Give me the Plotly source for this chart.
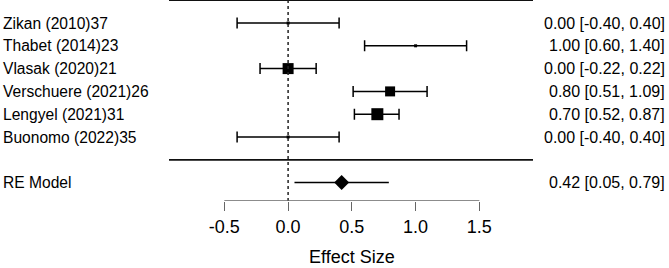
import plotly.graph_objects as go

# ---- data ----
studies = ["Zikan (2010)37", "Thabet (2014)23", "Vlasak (2020)21",
           "Verschuere (2021)26", "Lengyel (2021)31", "Buonomo (2022)35"]
estimates = [0.00, 1.00, 0.00, 0.80, 0.70, 0.00]
ci_lower = [-0.40, 0.60, -0.22, 0.51, 0.52, -0.40]
ci_upper = [0.40, 1.40, 0.22, 1.09, 0.87, 0.40]
model_label = "RE Model"
model_est = 0.42
model_lower = 0.05
model_upper = 0.79
tick_values = [-0.5, 0.0, 0.5, 1.0, 1.5]
tick_labels = ["-0.5", "0.0", "0.5", "1.0", "1.5"]
x_title = "Effect Size"

# ---- style ----
FONT = "Liberation Sans, Arial, Helvetica, sans-serif"
marker_px = [3, 3, 11, 10, 12, 3]  # study weights shown as square size
k = len(studies)
rows = list(range(k, 0, -1))
model_row = -1
W, H = 669, 268
plot_bottom = 201

fig = go.Figure()

fig.add_trace(go.Scatter(
    x=estimates, y=rows, mode="markers",
    marker=dict(symbol="square", size=marker_px, color="black", opacity=1,
                line=dict(width=0)),
    error_x=dict(type="data", symmetric=False,
                 array=[u - e for u, e in zip(ci_upper, estimates)],
                 arrayminus=[e - l for e, l in zip(estimates, ci_lower)],
                 color="black", thickness=1.5, width=5.5),
    showlegend=False, hoverinfo="skip"))

fig.add_trace(go.Scatter(
    x=[model_est], y=[model_row], mode="markers",
    marker=dict(symbol="diamond", size=11.5, color="black", opacity=1,
                line=dict(width=0)),
    error_x=dict(type="data", symmetric=False,
                 array=[model_upper - model_est],
                 arrayminus=[model_est - model_lower],
                 color="black", thickness=1.5, width=0),
    showlegend=False, hoverinfo="skip"))

# pixel mapping helpers
px_per_x = 127.5
x0_px = 288.1
x_range = [-x0_px / px_per_x, (W - x0_px) / px_per_x]
y_a, y_b = 159.8, 22.8
y_range = [(y_a - plot_bottom) / y_b, y_a / y_b]

def xpx(p):
    return (p - x0_px) / px_per_x

line_left = xpx(169)
line_right = xpx(533)

shapes = [
    dict(type="line", xref="x", yref="y", x0=line_left, x1=line_right,
         y0=k + 1, y1=k + 1, line=dict(color="#111", width=1.8)),
    dict(type="line", xref="x", yref="y", x0=line_left, x1=line_right,
         y0=0, y1=0, line=dict(color="#111", width=1.8)),
    dict(type="line", xref="x", yref="y", x0=0, x1=0,
         y0=y_range[0], y1=k + 1, line=dict(color="#222", width=1.5, dash="dot")),
    dict(type="line", xref="x", yref="y", x0=tick_values[0], x1=tick_values[-1],
         y0=y_range[0], y1=y_range[0], line=dict(color="#666", width=1.3)),
]

LBL = 15.6
annotations = []
for s, r in zip(studies, rows):
    annotations.append(dict(text=s, x=1 / W, y=r, xref="paper", yref="y",
                            xanchor="left", yanchor="middle", showarrow=False,
                            font=dict(size=LBL, color="black", family=FONT)))
annotations.append(dict(text=model_label, x=1 / W, y=model_row, xref="paper", yref="y",
                        xanchor="left", yanchor="middle", showarrow=False,
                        font=dict(size=LBL, color="black", family=FONT)))
for e, l, u, r in zip(estimates, ci_lower, ci_upper, rows):
    annotations.append(dict(text=f"{e:.2f} [{l:.2f}, {u:.2f}]", x=667 / W, y=r,
                            xref="paper", yref="y", xanchor="right", yanchor="middle",
                            showarrow=False, font=dict(size=16, color="black", family=FONT)))
annotations.append(dict(text=f"{model_est:.2f} [{model_lower:.2f}, {model_upper:.2f}]",
                        x=667 / W, y=model_row, xref="paper", yref="y",
                        xanchor="right", yanchor="middle", showarrow=False,
                        font=dict(size=16, color="black", family=FONT)))
annotations.append(dict(text=x_title, x=0.5, y=(plot_bottom - 257) / plot_bottom,
                        xref="x", yref="paper", xanchor="center", yanchor="middle",
                        showarrow=False, font=dict(size=18, color="black", family=FONT)))

fig.update_layout(
    width=W, height=H,
    margin=dict(l=0, r=0, t=0, b=H - plot_bottom, pad=0),
    paper_bgcolor="white", plot_bgcolor="white",
    xaxis=dict(range=x_range, tickmode="array", tickvals=tick_values, ticktext=tick_labels,
               ticks="outside", ticklen=9, tickwidth=1.3, tickcolor="#666",
               showline=False, showgrid=False, zeroline=False,
               tickfont=dict(size=18, color="black", family=FONT), fixedrange=True),
    yaxis=dict(range=y_range, showticklabels=False, showgrid=False, zeroline=False,
               showline=False, ticks="", fixedrange=True),
    shapes=shapes, annotations=annotations,
    font=dict(family=FONT),
)

fig.write_html("out.html", config={"displayModeBar": False},
               post_script="document.body.style.margin='0';document.body.style.overflow='hidden';")
